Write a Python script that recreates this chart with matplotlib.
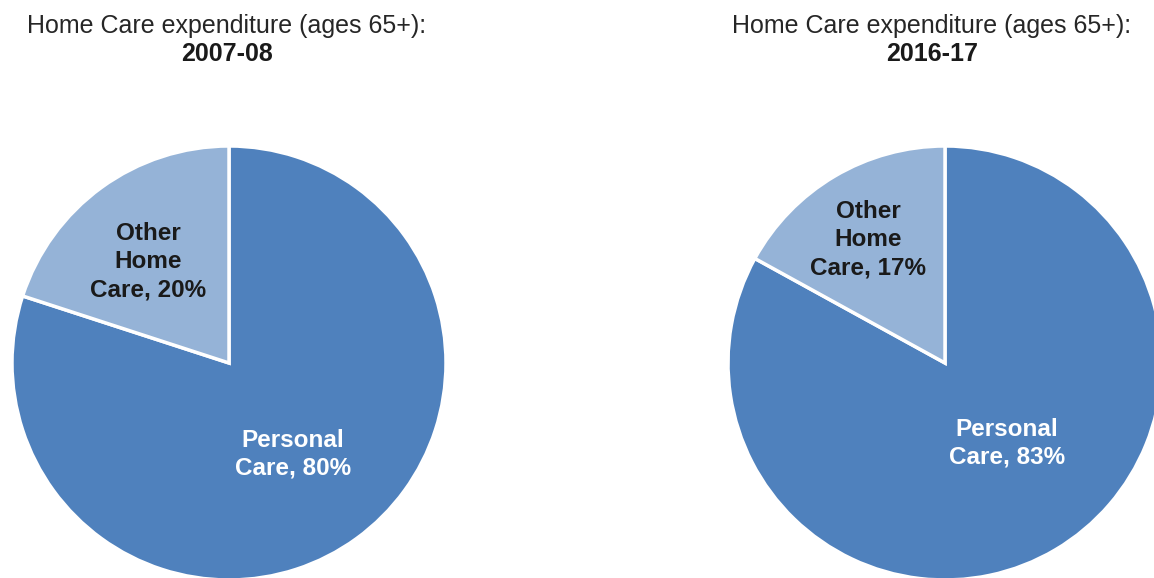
import matplotlib
matplotlib.use("Agg")
import matplotlib.pyplot as plt

# Data
years = ["2007-08", "2016-17"]
categories = ["Personal Care", "Other Home Care"]
shares_2007 = [80, 20]
shares_2016 = [83, 17]
title_text = "Home Care expenditure (ages 65+):"
colors = ["#4F81BD", "#95B3D7"]

W, H = 1154, 578
fig = plt.figure(figsize=(W / 100, H / 100), dpi=100)
ax = fig.add_axes([0, 0, 1, 1])

font = "Liberation Sans"

panels = [
    dict(vals=shares_2007, year=years[0], cx=229, cy=363, tx=227,
         other_xy=(148, 262), pers_xy=(293, 454)),
    dict(vals=shares_2016, year=years[1], cx=945, cy=363, tx=932,
         other_xy=(868, 240), pers_xy=(1007, 443)),
]

R = 217
for p in panels:
    ax.pie(p["vals"], colors=colors, startangle=-90, counterclock=True,
           center=(p["cx"], p["cy"]), radius=R,
           wedgeprops=dict(edgecolor="white", linewidth=2.5))
    ax.text(p["tx"], 26, title_text, ha="center", va="center",
            fontsize=18, family=font, color="#262626")
    ax.text(p["tx"], 54, p["year"], ha="center", va="center",
            fontsize=18, family=font, weight="bold", color="#1a1a1a")
    pct_o = p["vals"][1]
    pct_p = p["vals"][0]
    ax.text(*p["other_xy"], f"Other\nHome\nCare, {pct_o}%", ha="center",
            va="center", fontsize=17.5, family=font, weight="bold",
            color="#1a1a1a", linespacing=1.3)
    ax.text(*p["pers_xy"], f"Personal\nCare, {pct_p}%", ha="center",
            va="center", fontsize=17.5, family=font, weight="bold",
            color="white", linespacing=1.25)

ax.set_xlim(0, W)
ax.set_ylim(H, 0)
ax.set_aspect("auto")
ax.axis("off")

fig.savefig("out.png", dpi=100, facecolor="white")
